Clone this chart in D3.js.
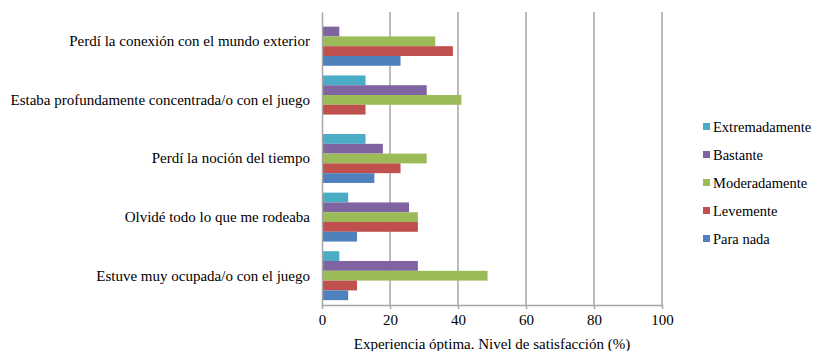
<!DOCTYPE html>
<html>
<head>
<meta charset="utf-8">
<script src="https://cdn.jsdelivr.net/npm/d3@7"></script>
<style>
  html, body { margin: 0; padding: 0; background: #fff; }
  svg { display: block; }
  svg text { font-family: "Liberation Serif", "Times New Roman", serif !important; }
</style>
</head>
<body>
<svg id="chart" width="816" height="351"></svg>
<script>
// Items of the flow questionnaire, top to bottom
const categories = [
  "Perdí la conexión con el mundo exterior",
  "Estaba profundamente concentrada/o con el juego",
  "Perdí la noción del tiempo",
  "Olvidé todo lo que me rodeaba",
  "Estuve muy ocupada/o con el juego"
];

// Response levels, in the order the bars are stacked inside each group
const seriesNames = ["Extremadamente", "Bastante", "Moderadamente", "Levemente", "Para nada"];
const seriesColors = ["#4BACC6", "#8064A2", "#9BBB59", "#C0504D", "#4F81BD"];

// Percentage of respondents per item, one array per response level
const extremadamente = [0, 12.8, 12.8, 7.7, 5.1];
const bastante       = [5.1, 30.8, 17.9, 25.6, 28.2];
const moderadamente  = [33.3, 41.0, 30.8, 28.2, 48.7];
const levemente      = [38.5, 12.8, 23.1, 28.2, 10.3];
const paraNada       = [23.1, 0, 15.4, 10.3, 7.7];
const seriesValues = [extremadamente, bastante, moderadamente, levemente, paraNada];

const xTicks = [0, 20, 40, 60, 80, 100];
const xTitle = "Experiencia óptima. Nivel de satisfacción (%)";

const svg = d3.select("#chart");
const plot = { left: 322, right: 662, top: 12, bottom: 305 };
const gridColor = "#a6a6a6";

const x = d3.scaleLinear().domain([0, 100]).range([plot.left, plot.right]);
const y = d3.scaleBand().domain(categories).range([plot.top, plot.bottom])
  .paddingInner(0.165).paddingOuter(0.0825);
const yInner = d3.scaleBand().domain(seriesNames).range([0, y.bandwidth()]);

// Vertical gridlines
svg.append("g").selectAll("line").data(xTicks.slice(1)).join("line")
  .attr("x1", d => x(d)).attr("x2", d => x(d))
  .attr("y1", plot.top).attr("y2", plot.bottom)
  .attr("stroke", gridColor).attr("stroke-width", 1.5);

// Bars
const rows = [];
categories.forEach((c, i) => {
  seriesNames.forEach((s, j) => rows.push({ cat: c, series: s, value: seriesValues[j][i], color: seriesColors[j] }));
});
svg.append("g").selectAll("rect").data(rows.filter(d => d.value > 0)).join("rect")
  .attr("x", x(0))
  .attr("y", d => y(d.cat) + yInner(d.series))
  .attr("width", d => x(d.value) - x(0))
  .attr("height", yInner.bandwidth())
  .attr("fill", d => d.color);

// Bottom axis
const xAxis = svg.append("g").attr("transform", `translate(0,${plot.bottom})`)
  .call(d3.axisBottom(x).tickValues(xTicks).tickSize(4).tickPadding(5).tickSizeOuter(0));
xAxis.select(".domain").attr("stroke", gridColor).attr("stroke-width", 1.5);
xAxis.selectAll(".tick line").attr("stroke", gridColor).attr("stroke-width", 1.5);
xAxis.selectAll(".tick text").style("font-size", "15px").attr("fill", "#000");

// Left axis with category labels
const yAxis = svg.append("g").attr("transform", `translate(${plot.left},0)`)
  .call(d3.axisLeft(y).tickSize(0).tickPadding(12));
yAxis.select(".domain").attr("stroke", gridColor).attr("stroke-width", 1.5);
yAxis.selectAll(".tick text").style("font-size", "15px").attr("fill", "#000");

// Axis title
svg.append("text")
  .attr("x", (plot.left + plot.right) / 2).attr("y", 349)
  .attr("text-anchor", "middle").style("font-size", "15px").attr("fill", "#000")
  .text(xTitle);

// Legend
const legend = svg.append("g").selectAll("g").data(seriesNames).join("g")
  .attr("transform", (d, i) => `translate(703,${126.5 + i * 28})`);
legend.append("rect").attr("x", 0).attr("y", -3.5).attr("width", 7).attr("height", 7)
  .attr("fill", (d, i) => seriesColors[i]);
legend.append("text").attr("x", 10).attr("y", 0).attr("dy", "0.35em")
  .style("font-size", "14.5px").attr("fill", "#000").text(d => d);
</script>
</body>
</html>
